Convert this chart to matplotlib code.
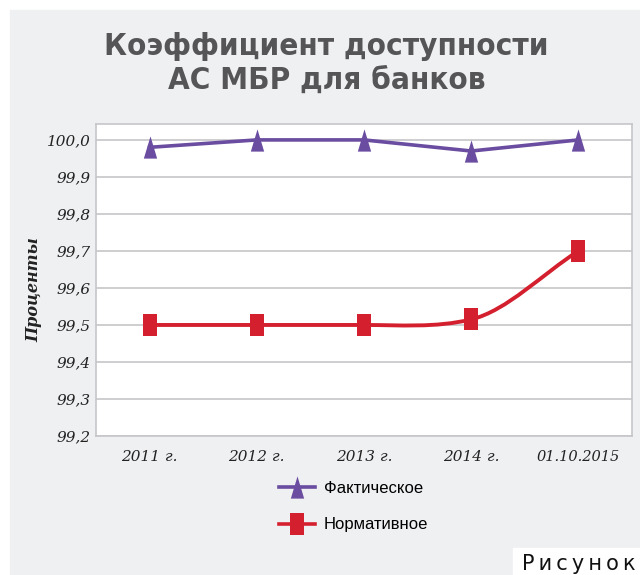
import numpy as np
import matplotlib.pyplot as plt
from matplotlib.path import Path
from matplotlib.patches import PathPatch, Rectangle
from matplotlib.lines import Line2D

years = ['2011 г.', '2012 г.', '2013 г.', '2014 г.', '01.10.2015']
fact = [99.98, 100.0, 100.0, 99.97, 100.0]
norm = [99.50, 99.50, 99.50, 99.515, 99.70]
yticks = [99.2, 99.3, 99.4, 99.5, 99.6, 99.7, 99.8, 99.9, 100.0]

purple = '#6a4ca0'
red = '#d4202e'

# tall markers
tri = Path([[-0.3, -0.5], [0.3, -0.5], [0, 0.5], [-0.3, -0.5]],
           [Path.MOVETO, Path.LINETO, Path.LINETO, Path.CLOSEPOLY])
rect = Path([[-0.29, -0.5], [0.29, -0.5], [0.29, 0.5], [-0.29, 0.5], [-0.29, -0.5]],
            [Path.MOVETO, Path.LINETO, Path.LINETO, Path.LINETO, Path.CLOSEPOLY])


def smooth_path(xs, ys):
    # smoothed line through the points, bezier segments
    xs = np.asarray(xs, float)
    ys = np.asarray(ys, float)
    h = np.diff(xs)
    d = np.diff(ys) / h
    m = np.zeros_like(ys)
    m[0], m[-1] = d[0], d[-1]
    for i in range(1, len(ys) - 1):
        if d[i - 1] * d[i] > 0:
            m[i] = 0.35 * (d[i - 1] + d[i])
    verts = [(xs[0], ys[0])]
    codes = [Path.MOVETO]
    for i in range(len(xs) - 1):
        verts += [(xs[i] + h[i] / 3, ys[i] + m[i] * h[i] / 3),
                  (xs[i + 1] - h[i] / 3, ys[i + 1] - m[i + 1] * h[i] / 3),
                  (xs[i + 1], ys[i + 1])]
        codes += [Path.CURVE4] * 3
    return Path(verts, codes)


fig = plt.figure(figsize=(6.4, 5.75), dpi=100)
fig.patch.set_facecolor('white')
bg = Rectangle((10 / 640, 0), 630 / 640, 565 / 575,
               transform=fig.transFigure, color='#eff0f2', zorder=-2)
fig.add_artist(bg)
wb = Rectangle((513 / 640, 0), 127 / 640, 27 / 575,
               transform=fig.transFigure, color='white', zorder=-1)
fig.add_artist(wb)

ax = fig.add_axes([96 / 640, 139 / 575, 536 / 640, 312 / 575])
ax.set_zorder(2)
ax.set_facecolor('white')
x = np.arange(len(years))

ax.plot(x, fact, color=purple, lw=2.6, marker=tri, ms=16, mew=0, zorder=3)
ax.add_patch(PathPatch(smooth_path(x, norm), facecolor='none', edgecolor=red,
                       lw=2.8, zorder=3))
ax.plot(x, norm, ls='none', color=red, marker=rect, ms=16.5, mew=0, zorder=4)

ax.set_xlim(-0.5, 4.5)
ax.set_ylim(99.2, 100.043)
ax.set_yticks(yticks)
ax.set_yticklabels([f'{v:.1f}'.replace('.', ',') for v in yticks])
ax.set_xticks(x)
ax.set_xticklabels(years)
ax.grid(axis='y', color='#c6c6ca', lw=1.2)
ax.set_axisbelow(True)
for s in ax.spines.values():
    s.set_color('#c6c6ca')
    s.set_linewidth(1.2)
ax.tick_params(axis='y', length=0, pad=4)
ax.tick_params(axis='x', length=0, pad=10)
for lab in ax.get_xticklabels() + ax.get_yticklabels():
    lab.set_fontfamily('DejaVu Serif')
    lab.set_fontstyle('italic')
    lab.set_fontsize(11)
    lab.set_color('#222222')
for lab in ax.get_xticklabels()[-1:]:
    lab.set_fontsize(10.5)
ax.set_ylabel('Проценты', family='DejaVu Serif', style='italic', weight='bold',
              fontsize=11.5, color='#222222')
ax.yaxis.set_label_coords(-0.10, 0.468)

fig.text(0.51, 0.89, 'Коэффициент доступности\nАС МБР для банков', ha='center',
         va='center', fontsize=22.5, weight='bold', color='#555558',
         family='DejaVu Sans', stretch='condensed', linespacing=1.22)

handles = [Line2D([], [], color=purple, lw=2.6, marker=tri, ms=16, mew=0),
           Line2D([], [], color=red, lw=2.6, marker=rect, ms=16.5, mew=0)]
fig.legend(handles, ['Фактическое', 'Нормативное'], loc='center',
           bbox_to_anchor=(0.552, 0.119), frameon=False, ncol=1,
           prop={'family': 'Liberation Sans', 'size': 12}, handlelength=2.2,
           labelspacing=1.3, handletextpad=0.5)

fig.text(0.815, 0.009, 'Р\u2009и\u2009с\u2009у\u2009н\u2009о\u2009к', fontsize=15,
         color='#111111', family='DejaVu Sans')

fig.savefig('out.png', dpi=100)
